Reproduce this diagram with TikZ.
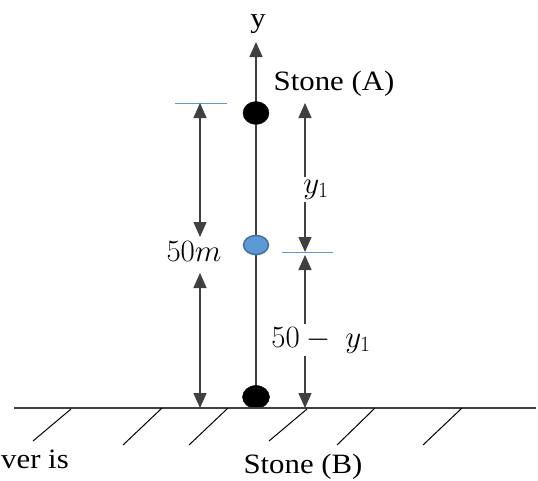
\RequirePackage{fix-cm}
\documentclass[tikz,border=0pt]{standalone}
\usepackage{fontspec}
\setmainfont{Liberation Serif}
\usetikzlibrary{arrows.meta,shapes.geometric}
\definecolor{lblue}{HTML}{5B9BD5}
\definecolor{dblue}{HTML}{41719C}
\definecolor{ln}{HTML}{404040}
\newcommand{\hs}[1]{\scalebox{1.1}[1]{#1}}
\begin{document}
\begin{tikzpicture}[x=1pt,y=-1pt,
  tip/.tip={Triangle[width=13pt,length=15pt]},
  dim/.style={line width=1.4pt, draw=ln, tip-tip},
  axisline/.style={line width=1.6pt, draw=ln, -tip},
  tick/.style={line width=1pt, draw=lblue},
  ground/.style={line width=1.2pt, draw=ln},
  hatch/.style={line width=1pt, draw=black},
  lbl/.style={inner sep=1pt, font=\fontsize{28}{31}\selectfont},
  mlbl/.style={inner sep=1pt, font=\fontsize{31}{34}\selectfont},
  stone/.style={ellipse, inner sep=0pt, fill=black, draw=black},
  ]
\useasboundingbox (0,0) rectangle (538,480);
% axis
\coordinate (ybot) at (256,400);
\coordinate (ytop) at (256,42);
\draw[axisline] (ybot) -- (ytop);
\node[lbl, anchor=base] (ylab) at (258,27) {\hs{y}};
% stones
\node[stone, minimum width=26pt, minimum height=23pt] (A) at (256,113) {};
\node[ellipse, inner sep=0pt, fill=lblue, draw=dblue, line width=1.5pt, minimum width=25pt, minimum height=19pt] (M) at (256,245) {};
\node[stone, minimum width=27pt, minimum height=23pt] (B) at (256,397) {};
% ground
\coordinate (g1) at (14,408);
\coordinate (g2) at (536,408);
\draw[ground] (g1) -- (g2);
\coordinate (h1a) at (71,409); \coordinate (h1b) at (33,441);
\coordinate (h2a) at (162,408); \coordinate (h2b) at (123,445);
\coordinate (h3a) at (228,408); \coordinate (h3b) at (189,445);
\coordinate (h4a) at (307,409); \coordinate (h4b) at (269,441);
\coordinate (h5a) at (375,408); \coordinate (h5b) at (337,445);
\coordinate (h6a) at (462,408); \coordinate (h6b) at (423,445);
\draw[hatch] (h1a) -- (h1b);
\draw[hatch] (h2a) -- (h2b);
\draw[hatch] (h3a) -- (h3b);
\draw[hatch] (h4a) -- (h4b);
\draw[hatch] (h5a) -- (h5b);
\draw[hatch] (h6a) -- (h6b);
% left dimension
\coordinate (t1a) at (175,103); \coordinate (t1b) at (227,103);
\draw[tick] (t1a) -- (t1b);
\coordinate (L1) at (200,103);
\coordinate (L2) at (200,237);
\coordinate (L3) at (200,273);
\coordinate (L4) at (200,408);
\draw[dim] (L1) -- (L2);
\draw[dim] (L3) -- (L4);
\node[mlbl, anchor=base] (fifty) at (194,261) {$50m$};
% right dimension
\coordinate (t2a) at (282,252); \coordinate (t2b) at (333,252);
\draw[tick] (t2a) -- (t2b);
\coordinate (R1) at (305,103);
\coordinate (R2) at (305,252);
\coordinate (R3) at (305,255);
\coordinate (R4) at (305,408);
\draw[dim] (R1) -- (R2);
\draw[dim] (R3) -- (R4);
\node[mlbl, anchor=base, fill=white, inner sep=3pt] (y1) at (316,193) {$y_1$};
\node[mlbl, anchor=base, fill=white, inner sep=3pt] (rest) at (321,347) {$50 -\ y_1$};
% texts
\node[lbl, anchor=base] (SA) at (334,90) {\hs{Stone (A)}};
\node[lbl, anchor=base] (SB) at (303,473) {\hs{Stone (B)}};
\node[lbl, anchor=base west] (ver) at (0,468) {\hs{ver is}};
\end{tikzpicture}
\end{document}
